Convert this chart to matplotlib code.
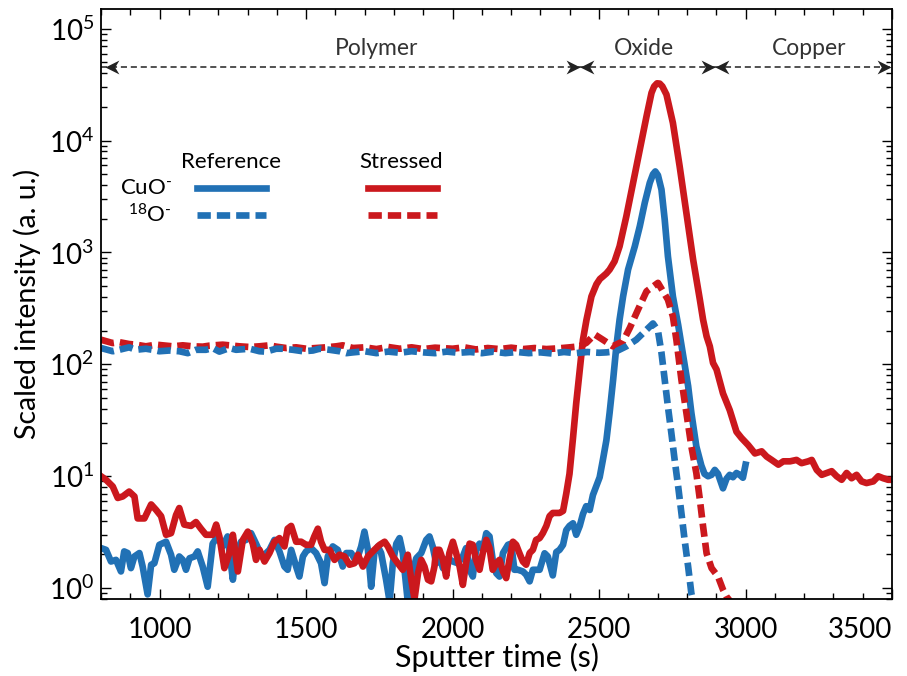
import matplotlib
matplotlib.use("Agg")
import matplotlib.pyplot as plt
from matplotlib.path import Path
from matplotlib.lines import Line2D
from matplotlib.ticker import MultipleLocator, LogLocator, NullFormatter

plt.rcParams["font.family"] = ["Lato", "DejaVu Sans"]
plt.rcParams["mathtext.fontset"] = "custom"
plt.rcParams["mathtext.rm"] = "Lato"
plt.rcParams["mathtext.it"] = "Lato:italic"
plt.rcParams["mathtext.bf"] = "Lato:bold"

BLUE = "#2171b5"
RED = "#cb181d"

# Reference CuO- (solid blue)
ref_cuo_t = [800, 817, 834, 851, 868, 879, 891, 902, 914, 931, 942, 959, 971, 982, 999,
             1022, 1039, 1050, 1067, 1079, 1090, 1102, 1119, 1130, 1147, 1164, 1181, 1198,
             1215, 1232, 1250, 1261, 1278, 1295, 1312, 1329, 1346,
             1358, 1375, 1392, 1409, 1426, 1437, 1449, 1466, 1477, 1489, 1500, 1517, 1534,
             1551, 1563, 1574, 1591, 1608, 1625, 1637, 1654, 1671, 1688, 1699, 1711, 1722,
             1733, 1745, 1756, 1773, 1785, 1796, 1808, 1819, 1830, 1847, 1859, 1876, 1893,
             1910, 1921, 1932, 1944, 1955, 1967, 1984, 2001, 2018, 2035, 2046, 2058, 2069,
             2080, 2092, 2103, 2115, 2126, 2137, 2149, 2160, 2172, 2189, 2200, 2211, 2223,
             2240, 2251, 2263, 2274, 2285, 2297, 2314, 2325, 2342, 2354, 2365, 2377, 2388,
             2399, 2411, 2422, 2434, 2445, 2456, 2468, 2479, 2490, 2502, 2513, 2525, 2536,
             2548, 2559, 2570, 2582, 2599, 2622, 2639, 2656, 2673, 2684, 2692, 2701, 2713,
             2724, 2735, 2752, 2770, 2787, 2804, 2815, 2832, 2849, 2860, 2872, 2884, 2895,
             2906, 2923, 2935, 2946, 2957, 2969, 2980, 2991, 3000]
ref_cuo_v = [2.28, 2.2, 1.73, 1.79, 1.41, 2.13, 2.06, 1.51, 1.92, 2.06, 1.56, 0.88, 1.62,
             1.67, 2.44, 2.6, 1.99, 1.46, 1.92, 1.79, 1.46, 1.85, 1.92, 2.13, 1.56, 1.03,
             2.5, 2.9, 2.36, 2.9, 1.19, 2.06, 2.6, 2.7, 3.1, 2.5, 1.99,
             1.99, 2.2, 2.7, 2.13, 1.56, 1.46, 2.2, 1.56, 1.27, 1.92, 2.13, 2.28, 2.06,
             1.67, 1.11, 1.92, 2.36, 2.2, 1.56, 2.06, 2.06, 1.73, 2.36, 3.2, 2.2, 1.03,
             2.06, 2.36, 2.06, 1.19, 0.76, 1.67, 2.5, 2.8, 2.06, 0.76, 1.27, 1.85, 2.06,
             2.7, 2.9, 2.36, 1.67, 1.92, 1.51, 1.85, 1.73, 1.67, 1.92, 2.28, 1.46, 1.27,
             2.2, 2.5, 2.2, 3.1, 2.9, 1.79, 1.36, 1.27, 2.06, 2.44, 2.5, 1.46, 1.46,
             1.41, 1.32, 1.15, 1.46, 1.46, 1.46, 2.05, 1.92, 1.3, 2.1, 2.2, 2.44, 3.3,
             3.6, 3.8, 3.0, 3.6, 4.6, 5.4, 5.0, 6.8, 8.1, 9.8, 14, 21, 37,
             73, 145, 251, 405, 703, 1135, 1715, 2780, 4190, 5000, 5300, 4900, 3650,
             1970, 925, 405, 225, 120, 64, 37, 18.5, 12.5, 10.5, 10.0, 10.3, 11.4,
             10.5, 7.8, 9.5, 10.3, 9.8, 10.7, 10.3, 9.7, 12.7]

# Reference 18O- (dashed blue)
ref_o18_t = [800, 840, 862, 896, 919, 953, 976, 999, 1033, 1067, 1096, 1124, 1158, 1181,
             1204, 1238, 1261, 1307, 1341, 1363, 1398, 1420, 1455, 1489, 1523, 1546, 1580,
             1614, 1637, 1660, 1700, 1740, 1780, 1820, 1860, 1900, 1940, 1980, 2020, 2060,
             2100, 2140, 2180, 2220, 2260, 2300, 2340, 2380, 2420, 2460, 2500, 2525, 2559,
             2593, 2627, 2662, 2684, 2701, 2713, 2724, 2735, 2747, 2758, 2770, 2781, 2792,
             2804, 2815, 2822]
ref_o18_v = [140, 131, 135, 142, 135, 138, 135, 131, 133, 131, 126, 135, 135, 140,
             130, 140, 135, 138, 131, 130, 138, 138, 135, 131, 133, 138, 135,
             131, 126, 128, 131, 126, 130, 127, 131, 128, 126, 130, 127, 129,
             126, 130, 126, 129, 126, 128, 125, 129, 126, 129, 127, 128, 131,
             145, 166, 204, 232, 200, 127, 73, 42, 24, 14, 8.1, 4.7, 2.7,
             1.56, 0.9, 0.75]

# Stressed CuO- (solid red)
str_cuo_t = [800, 817, 840, 857, 874, 896, 914, 925, 948, 971, 988, 1005, 1022, 1039,
             1056, 1067, 1084, 1107, 1124, 1141, 1158, 1181, 1193, 1204, 1221, 1238, 1250,
             1267, 1284, 1301, 1318, 1329, 1341,
             1358, 1375, 1392, 1409, 1426, 1437, 1449, 1466, 1483, 1500, 1517, 1528, 1540,
             1551, 1563, 1580, 1597, 1614, 1631, 1648, 1665, 1677, 1694, 1711, 1733, 1751,
             1768, 1779, 1796, 1813, 1830, 1847, 1859, 1870, 1882, 1893, 1904, 1916,
             1927, 1938, 1944, 1955, 1967, 1978, 1989, 2001, 2012, 2024, 2035, 2046, 2058,
             2069, 2080, 2092, 2103, 2115, 2126, 2137, 2149, 2160, 2172, 2183, 2194, 2206,
             2217, 2228, 2240, 2251, 2263, 2274, 2285, 2297, 2308, 2320, 2331, 2342, 2354,
             2365, 2377, 2388, 2399, 2411, 2422, 2434, 2445, 2457, 2474, 2491, 2503, 2513,
             2525, 2536, 2553, 2570, 2593, 2616, 2639, 2662, 2679, 2688, 2698, 2707, 2716,
             2730, 2752, 2775, 2798, 2821, 2844, 2855, 2867, 2878, 2889, 2901, 2923, 2946,
             2969, 2986, 3009, 3032, 3055, 3072, 3089, 3112, 3129, 3152, 3174, 3191, 3214,
             3226, 3243, 3260, 3277, 3294, 3311, 3328, 3345, 3362, 3379, 3396, 3413, 3436,
             3453, 3470, 3487, 3500]
str_cuo_v = [10, 9.3, 8.1, 6.4, 6.6, 7.3, 6.6, 4.2, 4.2, 5.6, 5.0, 4.4, 3.0, 3.1,
             4.5, 5.2, 3.7, 3.6, 3.9, 3.4, 3.0, 3.0, 3.7, 2.9, 1.51, 2.06, 3.0,
             1.41, 2.7, 3.2, 2.5, 1.79, 2.2,
             1.73, 2.06, 2.6, 2.8, 2.36, 3.4, 3.6, 2.6, 2.6, 2.44, 2.44, 2.9, 3.4,
             2.6, 2.2, 2.2, 1.79, 1.99, 1.92, 1.62, 1.67, 1.99, 1.56, 1.92, 2.2, 2.44,
             2.6, 2.36, 1.92, 1.67, 1.46, 1.99, 1.19, 0.8, 1.36, 1.79, 1.56, 1.19,
             1.15, 1.56, 2.2, 2.2, 1.79, 1.27, 2.06, 2.6, 2.06, 1.56, 1.07, 1.67, 2.5,
             2.44, 1.79, 1.46, 2.06, 2.7, 2.28, 1.46, 1.67, 1.79, 1.41, 1.23, 1.79, 2.6,
             2.44, 2.06, 1.73, 1.62, 2.06, 2.2, 2.7, 2.8, 3.1, 3.6, 4.4, 4.7, 4.7,
             4.7, 4.9, 7.0, 10.5, 22, 45, 89, 166, 250, 405, 520, 580, 610,
             650, 703, 834, 1135, 2100, 4190, 8320, 16500, 26700, 30500, 32500, 32300, 30500,
             25800, 14400, 5900, 2260, 865, 379, 251, 178, 145, 103, 90, 55, 39,
             25, 22, 19, 16, 16.7, 15, 14, 12.7, 13.6, 13.6, 14, 13.1, 13.6,
             14, 11.4, 10.3, 10.7, 11.1, 10, 9.3, 10.7, 9.6, 10.3, 9.0, 8.7, 9.0,
             10, 9.6, 9.3, 9.3]

# Stressed 18O- (dashed red)
str_o18_t = [800, 840, 862, 896, 919, 953, 988, 1010, 1045, 1079, 1113, 1147, 1170, 1215,
             1238, 1272, 1307, 1341, 1375, 1398, 1432, 1466, 1500, 1534, 1568, 1603, 1625,
             1660, 1700, 1740, 1780, 1820, 1860, 1900, 1940, 2000, 2040, 2080, 2120, 2160,
             2200, 2240, 2280, 2320, 2360, 2400, 2434, 2457, 2485, 2513, 2547, 2582, 2605,
             2633, 2662, 2701, 2735, 2752, 2764, 2781, 2798, 2815, 2832, 2844, 2855, 2867,
             2884, 2906, 2923, 2935, 2950]
str_o18_v = [166, 155, 158, 152, 150, 145, 150, 148, 145, 148, 145, 144, 147, 150,
             148, 145, 143, 145, 148, 144, 140, 142, 138, 140, 142, 145, 148,
             140, 142, 137, 143, 138, 142, 137, 141, 138, 142, 136, 140, 137,
             141, 137, 140, 137, 139, 142, 145, 156, 185, 166, 145, 161, 212,
             309, 450, 535, 379, 268, 165, 73, 37, 18.5, 10.7, 6.2, 3.56, 2.05,
             1.51, 1.27, 0.97, 0.84, 0.75]

XTICKS = [1000, 1500, 2000, 2500, 3000, 3500]
REGIONS = ["Polymer", "Oxide", "Copper"]
REGION_BOUNDS = [800, 2434, 2897, 3500]
REGION_LABEL_X = [1740, 2654, 3218]
ARROW_Y = 4.5e4
LABEL_Y = 6.6e4


def stealth(direction):
    s = 1 if direction == "right" else -1
    verts = [(0, 0), (-s * 1.0, 0.5), (-s * 0.7, 0), (-s * 1.0, -0.5), (0, 0)]
    codes = [Path.MOVETO, Path.LINETO, Path.LINETO, Path.LINETO, Path.CLOSEPOLY]
    return Path(verts, codes)


fig = plt.figure(figsize=(9.07, 6.76), dpi=100)
ax = fig.add_axes([0.1114, 0.1139, 0.8721, 0.8728])

dash = (2.0, 0.9)
lw = 4.8
ax.plot(ref_cuo_t, ref_cuo_v, color=BLUE, lw=lw, solid_joinstyle="round")
ax.plot(str_cuo_t, str_cuo_v, color=RED, lw=lw, solid_joinstyle="round")
ax.plot(str_o18_t, str_o18_v, color=RED, lw=lw, dashes=dash)
ax.plot(ref_o18_t, ref_o18_v, color=BLUE, lw=lw, dashes=dash)

ax.set_yscale("log")
ax.set_xlim(800, 3500)
ax.set_ylim(0.8, 1.5e5)
ax.set_xticks(XTICKS)
ax.xaxis.set_minor_locator(MultipleLocator(100))
ax.yaxis.set_major_locator(LogLocator(base=10, numticks=10))
ax.yaxis.set_minor_locator(LogLocator(base=10, subs=range(2, 10), numticks=20))
ax.yaxis.set_minor_formatter(NullFormatter())
ax.tick_params(which="both", direction="in", top=True, right=True, width=1.0,
               labelsize=20, colors="black")
ax.tick_params(which="major", length=7)
ax.tick_params(which="minor", length=4)
ax.tick_params(axis="x", pad=13)
ax.tick_params(axis="y", pad=5)
for sp in ax.spines.values():
    sp.set_linewidth(1.3)
# last x label sits left of its tick, as in the original
last = ax.get_xticklabels()[-1]
last.set_horizontalalignment("right")

ax.set_xlabel("Sputter time (s)", fontsize=22, labelpad=0)
ax.set_ylabel("Scaled intensity (a. u.)", fontsize=20.5, labelpad=6)

# region arrows
for i, name in enumerate(REGIONS):
    x0, x1 = REGION_BOUNDS[i], REGION_BOUNDS[i + 1]
    ax.plot([x0, x1], [ARROW_Y, ARROW_Y], color="#222222", lw=1.1, ls=(0, (4, 2.5)))
    ax.plot([x0 + 12 if i == 0 else x0], [ARROW_Y], marker=stealth("left"), ms=20,
            color="#222222", mew=0, ls="none")
    ax.plot([x1 - 5 if i == 2 else x1], [ARROW_Y], marker=stealth("right"), ms=20,
            color="#222222", mew=0, ls="none")
    ax.text(REGION_LABEL_X[i], LABEL_Y, name, ha="center", va="center",
            fontsize=16.5, color="#333333")

# legend block
tr = ax.transAxes
ax.text(0.1643, 0.741, "Reference", transform=tr, ha="center", va="center", fontsize=16)
ax.text(0.379, 0.741, "Stressed", transform=tr, ha="center", va="center", fontsize=16)
ax.text(0.0898, 0.6966, r"CuO$^{\text{-}}$", transform=tr, ha="right", va="center",
        fontsize=16)
ax.text(0.0898, 0.6508, r"$^{18}$O$^{\text{-}}$", transform=tr, ha="right", va="center",
        fontsize=16)
for x0, x1, c in [(0.121, 0.2086, BLUE), (0.3372, 0.4248, RED)]:
    ax.add_line(Line2D([x0, x1], [0.6966, 0.6966], transform=tr, color=c, lw=lw))
    ax.add_line(Line2D([x0, x1], [0.6508, 0.6508], transform=tr, color=c, lw=lw,
                       dashes=dash))

fig.savefig("out.png", dpi=100)
